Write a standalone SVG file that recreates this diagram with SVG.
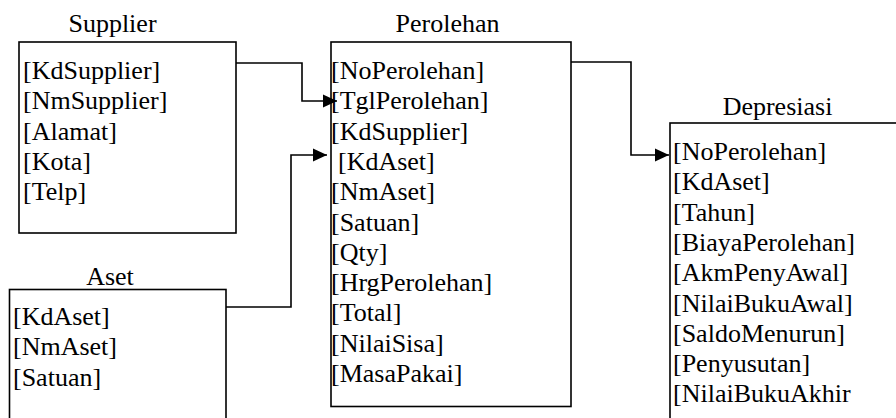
<svg xmlns="http://www.w3.org/2000/svg" width="896" height="418" viewBox="0 0 896 418">
<style>
text{font-family:"Liberation Serif","Times New Roman",serif;font-size:26px;fill:#000}
.box{fill:#fff;stroke:#000;stroke-width:1.6}
.title{text-anchor:middle}
.conn{fill:none;stroke:#000;stroke-width:1.6}
</style>
<defs>
<marker id="arr" markerUnits="userSpaceOnUse" markerWidth="15" markerHeight="14" refX="14" refY="7" orient="auto">
<path d="M0,0.5 L14,7 L0,13.5 z" fill="#000"/>
</marker>
</defs>
<rect width="896" height="418" fill="#fff"/>
<g id="supplier">
<text class="title" x="112.5" y="32">Supplier</text>
<rect class="box" x="19" y="42" width="217" height="191"/>
<text x="23" y="79">[KdSupplier]</text>
<text x="23" y="109.3">[NmSupplier]</text>
<text x="23" y="139.6">[Alamat]</text>
<text x="23" y="169.9">[Kota]</text>
<text x="23" y="200.2">[Telp]</text>
</g>
<g id="aset">
<text class="title" x="110" y="285">Aset</text>
<rect class="box" x="9.5" y="289.5" width="216.5" height="160"/>
<text x="13" y="325">[KdAset]</text>
<text x="13" y="355.3">[NmAset]</text>
<text x="13" y="385.6">[Satuan]</text>
</g>
<g id="perolehan">
<text class="title" x="447.5" y="32">Perolehan</text>
<rect class="box" x="331" y="42" width="240" height="364.5"/>
<text x="331" y="79">[NoPerolehan]</text>
<text x="331" y="109.3">[TglPerolehan]</text>
<text x="331" y="139.6">[KdSupplier]</text>
<text x="338" y="169.9">[KdAset]</text>
<text x="331" y="200.2">[NmAset]</text>
<text x="331" y="230.5">[Satuan]</text>
<text x="331" y="260.8">[Qty]</text>
<text x="331" y="291.1">[HrgPerolehan]</text>
<text x="331" y="321.4">[Total]</text>
<text x="331" y="351.7">[NilaiSisa]</text>
<text x="331" y="382">[MasaPakai]</text>
</g>
<g id="depresiasi">
<text class="title" x="777.5" y="115">Depresiasi</text>
<rect class="box" x="670" y="123" width="300" height="400"/>
<text x="673" y="160">[NoPerolehan]</text>
<text x="673" y="190.3">[KdAset]</text>
<text x="673" y="220.6">[Tahun]</text>
<text x="673" y="250.9">[BiayaPerolehan]</text>
<text x="673" y="281.2">[AkmPenyAwal]</text>
<text x="673" y="311.5">[NilaiBukuAwal]</text>
<text x="673" y="341.8">[SaldoMenurun]</text>
<text x="673" y="372.1">[Penyusutan]</text>
<text x="673" y="402.4">[NilaiBukuAkhir</text>
</g>
<g id="connectors">
<path class="conn" d="M236,63 H302 V101 H337" marker-end="url(#arr)"/>
<path class="conn" d="M226,307 H291 V155 H327" marker-end="url(#arr)"/>
<path class="conn" d="M571,62 H631 V155 H669" marker-end="url(#arr)"/>
</g>
</svg>
